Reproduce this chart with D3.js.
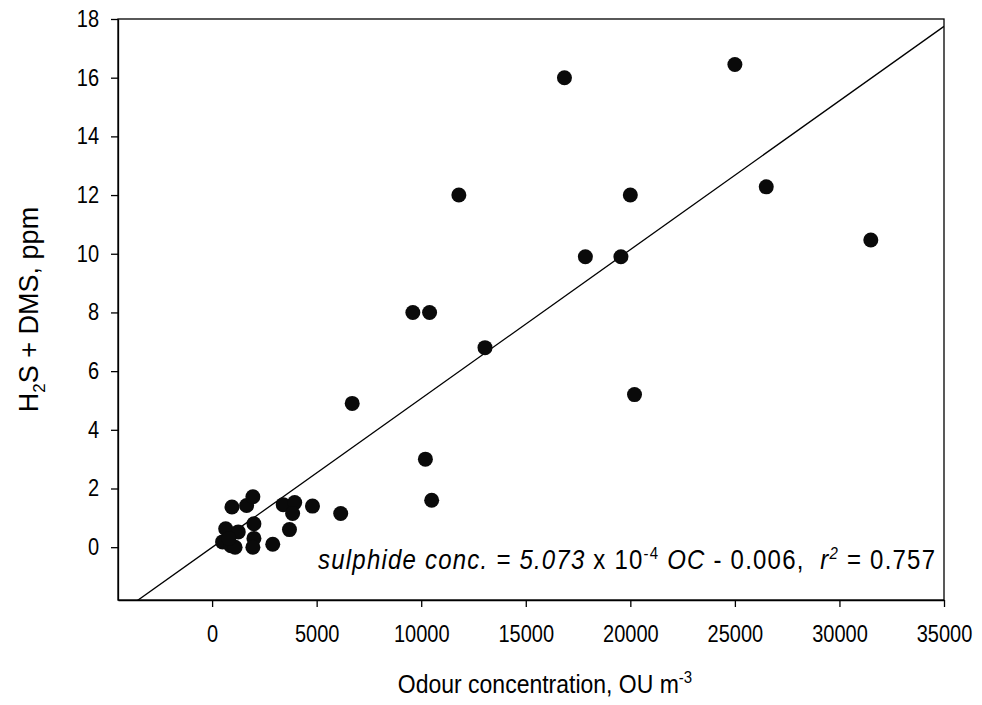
<!DOCTYPE html>
<html lang="en">
<head>
    <meta charset="UTF-8">
    <title>Odour concentration vs sulphides</title>
    <script type="text/javascript" src="https://cdn.jsdelivr.net/npm/d3@7"></script>
</head>
<style>
    body{
        margin:0;
        background:#fff;
    }
    text{
        font-family: "Liberation Sans", Arial, sans-serif;
        fill:#000;
    }
    .axis path,.axis line{
        fill:none;
        stroke:#000;
        stroke-width:1.3px;
    }
    .axis text{
        font-size:20px;
    }
    .frame{
        fill:none;
        stroke:#000;
        stroke-width:1.3px;
    }
    .dot{
        fill:#0a0a0a;
    }
    .fit{
        stroke:#000;
        stroke-width:1.3px;
        fill:none;
    }
</style>
<body>

<script>
    var width = 982;
    var height = 705;
    var padding = {left:118, right:38, top:19, bottom:105};

    // odour concentration, OU m-3
    var odour = [16850, 25000, 11800, 20000, 26500, 31500, 17850, 19550, 9600, 10400,
                 13050, 20200, 6700, 10200, 10500, 950, 1650, 1950, 3400, 3950,
                 3850, 4800, 6150, 3700, 2900, 2000, 2000, 1950, 650, 1250,
                 500, 900, 1100, 800];
    // H2S + DMS, ppm
    var sulphide = [16.0, 16.45, 12.0, 12.0, 12.28, 10.47, 9.9, 9.9, 8.0, 8.0,
                    6.8, 5.2, 4.9, 3.0, 1.6, 1.37, 1.42, 1.72, 1.45, 1.52,
                    1.15, 1.4, 1.15, 0.6, 0.1, 0.8, 0.3, 0.0, 0.63, 0.52,
                    0.18, 0.05, 0.0, 0.3];

    var xTicks = [0, 5000, 10000, 15000, 20000, 25000, 30000, 35000];
    var yTicks = [0, 2, 4, 6, 8, 10, 12, 14, 16, 18];

    // regression: slope, intercept
    var fitSlope = 5.073e-4;
    var fitIntercept = -0.006;

    var plotW = width - padding.left - padding.right;
    var plotH = height - padding.top - padding.bottom;
    var stretch = "scale(1,1.15)";

    var svg = d3.select("body")
            .append("svg")
            .attr("width", width)
            .attr("height", height);

    var xScale = d3.scaleLinear()
            .domain([-4500, 35000])
            .range([0, plotW]);

    var yScale = d3.scaleLinear()
            .domain([-1.8, 18])
            .range([plotH, 0]);

    var g = svg.append("g")
            .attr("transform", "translate(" + padding.left + "," + padding.top + ")");

    svg.append("clipPath")
            .attr("id", "plotClip")
            .append("rect")
            .attr("width", plotW)
            .attr("height", plotH);

    //x axis
    var xAxis = d3.axisBottom(xScale)
            .tickValues(xTicks)
            .tickSize(7)
            .tickSizeOuter(0)
            .tickFormat(d3.format("d"));

    g.append("g")
            .attr("class", "axis")
            .attr("transform", "translate(0," + plotH + ")")
            .call(xAxis)
            .selectAll("text")
            .attr("y", 36.5)
            .attr("dy", 0)
            .attr("transform", stretch);

    //y axis
    var yAxis = d3.axisLeft(yScale)
            .tickValues(yTicks)
            .tickSize(7)
            .tickPadding(12)
            .tickSizeOuter(0);

    g.append("g")
            .attr("class", "axis")
            .call(yAxis)
            .selectAll("text")
            .attr("transform", stretch);

    g.append("rect")
            .attr("class", "frame")
            .attr("width", plotW)
            .attr("height", plotH);

    //regression line
    var x0 = xScale.domain()[0], x1 = xScale.domain()[1];
    g.append("line")
            .attr("class", "fit")
            .attr("clip-path", "url(#plotClip)")
            .attr("x1", xScale(x0))
            .attr("y1", yScale(fitSlope * x0 + fitIntercept))
            .attr("x2", xScale(x1))
            .attr("y2", yScale(fitSlope * x1 + fitIntercept));

    //points
    g.selectAll(".dot")
            .data(odour)
            .enter()
            .append("circle")
            .attr("class", "dot")
            .attr("cx", function(d){ return xScale(d); })
            .attr("cy", function(d, i){ return yScale(sulphide[i]); })
            .attr("r", 7.5);

    //x title
    var xt = svg.append("text")
            .attr("transform", "translate(545,693) " + stretch)
            .attr("text-anchor", "middle")
            .style("font-size", "23px");
    xt.append("tspan").text("Odour concentration, OU m");
    xt.append("tspan").attr("dy", -9).style("font-size", "15px").text("-3");

    //y title
    var yt = svg.append("text")
            .attr("transform", "translate(38," + (padding.top + plotH / 2) + ") rotate(-90)")
            .attr("text-anchor", "middle")
            .style("font-size", "27px");
    yt.append("tspan").text("H");
    yt.append("tspan").attr("dy", 7).style("font-size", "17px").text("2");
    yt.append("tspan").attr("dy", -7).text("S + DMS, ppm");

    //equation
    var eq = svg.append("text")
            .attr("transform", "translate(935,569) " + stretch)
            .attr("text-anchor", "end")
            .attr("textLength", 617)
            .attr("lengthAdjust", "spacing")
            .style("font-size", "24px")
            .style("white-space", "pre");
    eq.append("tspan").style("font-style", "italic").text("sulphide conc. = 5.073");
    eq.append("tspan").text(" x 10");
    eq.append("tspan").attr("dy", -9).style("font-size", "15px").text("-4");
    eq.append("tspan").attr("dy", 9).style("font-style", "italic").text(" OC");
    eq.append("tspan").text(" - 0.006,  ");
    eq.append("tspan").style("font-style", "italic").text("r");
    eq.append("tspan").attr("dy", -9).style("font-size", "15px").style("font-style", "italic").text("2");
    eq.append("tspan").attr("dy", 9).text(" = 0.757");

</script>
</body>
</html>
